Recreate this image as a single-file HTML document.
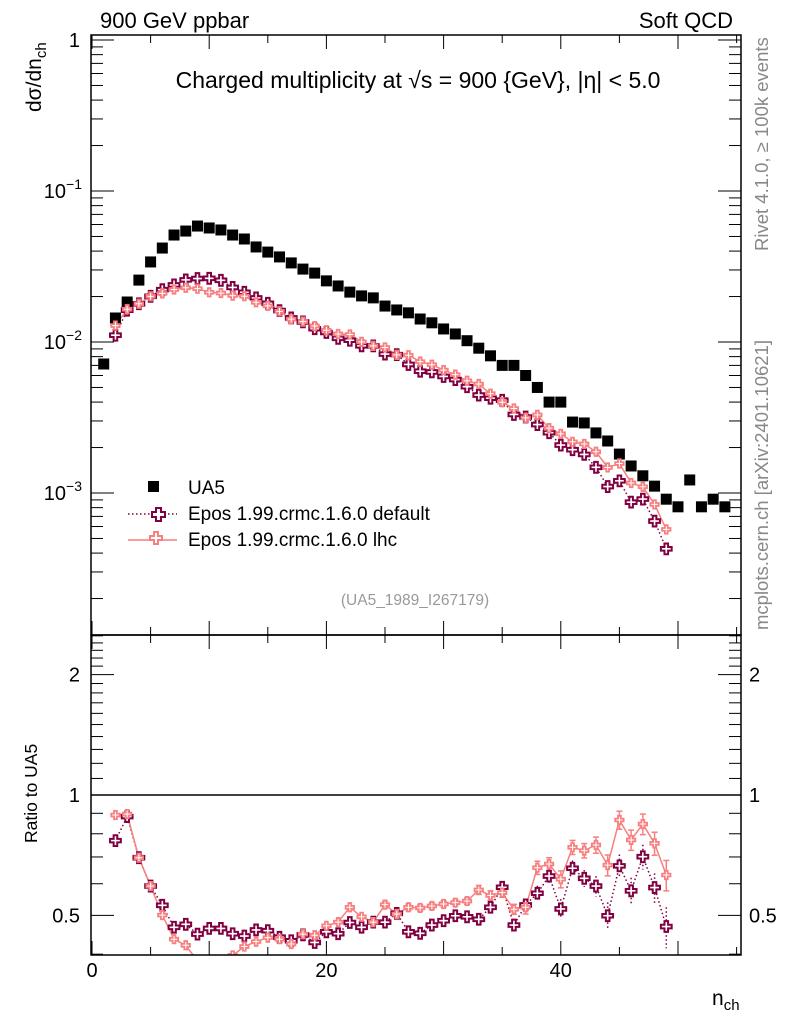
<!DOCTYPE html>
<html><head><meta charset="utf-8"><style>
html,body{margin:0;padding:0;background:#fff;}
svg{display:block;font-family:"Liberation Sans",sans-serif;}
</style></head><body>
<svg id="chart" width="786" height="1024" viewBox="0 0 786 1024" xmlns="http://www.w3.org/2000/svg">
<g id="marks"></g>
<g id="frame"></g>
<text x="100" y="28" font-size="22">900 GeV ppbar</text>
<text x="733" y="28" font-size="22" text-anchor="end">Soft QCD</text>
<text x="418" y="88" font-size="23" text-anchor="middle">Charged multiplicity at √s = 900 {GeV}, |η| &lt; 5.0</text>
<text transform="translate(41,112) rotate(-90)" font-size="21">dσ/dn<tspan font-size="15" dy="5">ch</tspan></text>
<text transform="translate(37,843) rotate(-90)" font-size="17.5">Ratio to UA5</text>
<text x="712" y="1005" font-size="21">n<tspan font-size="15" dy="5">ch</tspan></text>
<text transform="translate(768,251) rotate(-90)" font-size="18.5" fill="#888">Rivet 4.1.0, ≥ 100k events</text>
<text transform="translate(768,630) rotate(-90)" font-size="18.5" fill="#888">mcplots.cern.ch [arXiv:2401.10621]</text>
<text x="415" y="605" font-size="15.5" fill="#999" text-anchor="middle">(UA5_1989_I267179)</text>
<g>
<rect x="148" y="481" width="11" height="11" fill="#000"/>
<text x="188" y="494" font-size="19">UA5</text>
<line x1="128" y1="514" x2="177" y2="514" stroke="#800040" stroke-width="1.5" stroke-dasharray="1.5,2.5"/>
<path d="M152,512h4v-4h5v4h4v5h-4v4h-5v-4h-4z" fill="#fff" stroke="#800040" stroke-width="2"/>
<text x="188" y="520" font-size="19">Epos 1.99.crmc.1.6.0 default</text>
<line x1="128" y1="540" x2="177" y2="540" stroke="#f77f7f" stroke-width="1.5"/>
<path d="M150,538h4v-4h4v4h4v4h-4v4h-4v-4h-4z" transform="translate(0,-2)" fill="#fff" stroke="#f77f7f" stroke-width="2"/>
<text x="188" y="546" font-size="19">Epos 1.99.crmc.1.6.0 lhc</text>
</g>
</svg>
<script>
const nch = [];
for (let i = 1; i <= 54; i++) nch.push(i);
const ua5 = [0.00715,0.01442,0.0184,0.0257,0.0339,0.0419,0.0511,0.0543,0.0586,0.0569,0.0552,0.0511,0.0481,0.0426,0.0394,0.0366,0.0334,0.0304,0.0286,0.0254,0.0235,0.0214,0.0202,0.0196,0.0173,0.0163,0.0156,0.0142,0.0134,0.0122,0.0113,0.0102,0.0091,0.0081,0.0070,0.0070,0.0060,0.0050,0.0040,0.0040,0.00295,0.00291,0.00250,0.00221,0.00181,0.00151,0.00130,0.00111,0.00091,0.00081,0.00122,0.00081,0.00091,0.00081];
const mcN = [2,3,4,5,6,7,8,9,10,11,12,13,14,15,16,17,18,19,20,21,22,23,24,25,26,27,28,29,30,31,32,33,34,35,36,37,38,39,40,41,42,43,44,45,46,47,48,49];
const ratioDefault = [0.769,0.883,0.697,0.592,0.530,0.467,0.475,0.449,0.464,0.464,0.450,0.444,0.460,0.458,0.441,0.432,0.447,0.428,0.455,0.450,0.480,0.467,0.481,0.481,0.506,0.455,0.451,0.473,0.485,0.499,0.496,0.489,0.524,0.588,0.473,0.531,0.568,0.627,0.519,0.656,0.619,0.592,0.499,0.665,0.576,0.701,0.587,0.469];
const ratioLhc = [0.891,0.896,0.697,0.592,0.501,0.436,0.421,0.385,0.375,0.382,0.397,0.418,0.430,0.440,0.436,0.424,0.449,0.446,0.471,0.481,0.524,0.496,0.481,0.532,0.504,0.524,0.522,0.528,0.534,0.538,0.543,0.579,0.561,0.570,0.518,0.524,0.658,0.672,0.616,0.740,0.726,0.750,0.668,0.866,0.772,0.846,0.757,0.631];
const ratioErr = [0,0,0,0,0,0,0,0,0,0,0,0,0,0,0,0,0,0,0,0,0,0,0,0.01,0.01,0.01,0.01,0.01,0.01,0.01,0.01,0.015,0.015,0.015,0.015,0.02,0.025,0.025,0.03,0.03,0.03,0.035,0.04,0.045,0.045,0.05,0.05,0.055];
const xTicks = [0,20,40];
const yTickLabels = ["1","10","10","10"];
const yTickExps = ["","−1","−2","−3"];
const rTicks = [2,1,0.5];

const NS="http://www.w3.org/2000/svg";
const L=91,R=741,T=35,B=635,RT=635,RB=955;
const sx=n=>92+n*11.72;
const sy=v=>40-151*Math.log10(v);
const sr=r=>795-400*Math.log10(r);
const marks=document.getElementById('marks'), frame=document.getElementById('frame');
function el(tag,attrs,parent){const e=document.createElementNS(NS,tag);for(const k in attrs)e.setAttribute(k,attrs[k]);(parent||marks).appendChild(e);return e;}
function cross(x,y,a){return `M${x-3*a/2},${y-a/2}h${a}v${-a}h${a}v${a}h${a}v${a}h${-a}v${a}h${-a}v${-a}h${-a}z`;}

const defs=el('defs',{});
const c1=el('clipPath',{id:'ctop'},defs);el('rect',{x:L,y:T,width:R-L,height:B-T},c1);
const c2=el('clipPath',{id:'cbot'},defs);el('rect',{x:L,y:RT,width:R-L,height:RB-RT},c2);
const gTop=el('g',{'clip-path':'url(#ctop)'});


const gBot=el('g',{'clip-path':'url(#cbot)'});



const defVals=mcN.map((n,i)=>ratioDefault[i]*ua5[n-1]);
const lhcVals=mcN.map((n,i)=>ratioLhc[i]*ua5[n-1]);

el('polyline',{points:mcN.map((n,i)=>sx(n)+','+sy(defVals[i])).join(' '),fill:'none',stroke:'#800040','stroke-width':1.5,'stroke-dasharray':'1.5,2.5'},gTop);
el('polyline',{points:mcN.map((n,i)=>sx(n)+','+sy(lhcVals[i])).join(' '),fill:'none',stroke:'#f77f7f','stroke-width':1.5},gTop);
nch.forEach((n,i)=>{const r=el('rect',{x:sx(n)-5.5,y:sy(ua5[i])-5.5,width:11,height:11,fill:'#000'},gTop);

});
mcN.forEach((n,i)=>{const p=el('path',{d:cross(sx(n),sy(defVals[i]),3.6),fill:'#fff',stroke:'#800040','stroke-width':2},gTop);

});
mcN.forEach((n,i)=>{const p=el('path',{d:cross(sx(n),sy(lhcVals[i]),2.8),fill:'#fff',stroke:'#f77f7f','stroke-width':1.8},gTop);

});

el('line',{x1:L,x2:R,y1:sr(1),y2:sr(1),stroke:'#000','stroke-width':1.5},gBot);
el('polyline',{points:mcN.map((n,i)=>sx(n)+','+sr(ratioDefault[i])).join(' '),fill:'none',stroke:'#800040','stroke-width':1.5,'stroke-dasharray':'1.5,2.5'},gBot);
el('polyline',{points:mcN.map((n,i)=>sx(n)+','+sr(ratioLhc[i])).join(' '),fill:'none',stroke:'#f77f7f','stroke-width':1.5},gBot);
mcN.forEach((n,i)=>{if(ratioErr[i]>0){
 el('line',{x1:sx(n),x2:sx(n),y1:sr(ratioDefault[i]+ratioErr[i]),y2:sr(ratioDefault[i]-ratioErr[i]),stroke:'#800040','stroke-width':1.5,'stroke-dasharray':'1.5,2.5'},gBot);
 el('line',{x1:sx(n),x2:sx(n),y1:sr(ratioLhc[i]+ratioErr[i]),y2:sr(ratioLhc[i]-ratioErr[i]),stroke:'#f77f7f','stroke-width':1.5},gBot);
 [ratioLhc[i]+ratioErr[i],ratioLhc[i]-ratioErr[i]].forEach(v=>el('line',{x1:sx(n)-3,x2:sx(n)+3,y1:sr(v),y2:sr(v),stroke:'#f77f7f','stroke-width':1.5},gBot));
}});
mcN.forEach((n,i)=>{const p=el('path',{d:cross(sx(n),sr(ratioDefault[i]),3.6),fill:'#fff',stroke:'#800040','stroke-width':2},gBot);

});
mcN.forEach((n,i)=>{const p=el('path',{d:cross(sx(n),sr(ratioLhc[i]),2.8),fill:'#fff',stroke:'#f77f7f','stroke-width':1.8},gBot);

});

el('rect',{x:L,y:T,width:R-L,height:B-T,fill:'none',stroke:'#000','stroke-width':1.5},frame);
el('rect',{x:L,y:RT,width:R-L,height:RB-RT,fill:'none',stroke:'#000','stroke-width':1.5},frame);
for(let n=0;n<=55;n+=5){const x=sx(n);const len=(n%10===0)?14:8;
 [[RB,RB-len],[RT,RT+len],[RT,RT-len],[T,T+len]].forEach(([a,b])=>el('line',{x1:x,x2:x,y1:a,y2:b,stroke:'#000','stroke-width':1},frame));}
xTicks.forEach(n=>{const t=el('text',{x:sx(n),y:977,'font-size':20,'text-anchor':'middle'},frame);t.textContent=n;

});
for(let d=0;d>=-4;d--){for(let m=1;m<10;m++){const v=m*Math.pow(10,d-1);const y=sy(v);if(y<T||y>B)continue;
 const len=m===1?23:12;el('line',{x1:L,x2:L+len,y1:y,y2:y,stroke:'#000','stroke-width':1},frame);el('line',{x1:R,x2:R-len,y1:y,y2:y,stroke:'#000','stroke-width':1},frame);}}
el('line',{x1:L,x2:L+23,y1:sy(1),y2:sy(1),stroke:'#000'},frame);el('line',{x1:R,x2:R-23,y1:sy(1),y2:sy(1),stroke:'#000'},frame);
yTickLabels.forEach((s,i)=>{const t=el('text',{x:i===0?80:82,y:sy(Math.pow(10,-i))+7,'font-size':20,'text-anchor':'end'},frame);
 t.textContent=s; if(yTickExps[i]){const ts=el('tspan',{'font-size':14,dy:-9},t);ts.textContent=yTickExps[i];}
 
 });
for(let k=4;k<=25;k++){const v=k/10;const y=sr(v);if(y<RT||y>RB)continue;const len=(k===5||k===10||k===20)?23:12;
 el('line',{x1:L,x2:L+len,y1:y,y2:y,stroke:'#000'},frame);el('line',{x1:R,x2:R-len,y1:y,y2:y,stroke:'#000'},frame);}
rTicks.forEach(v=>{[[80,'end'],[749,'start']].forEach(([x,a])=>{const t=el('text',{x:x,y:sr(v)+7,'font-size':20,'text-anchor':a},frame);t.textContent=v;
 
 });});
</script>
</body></html>
